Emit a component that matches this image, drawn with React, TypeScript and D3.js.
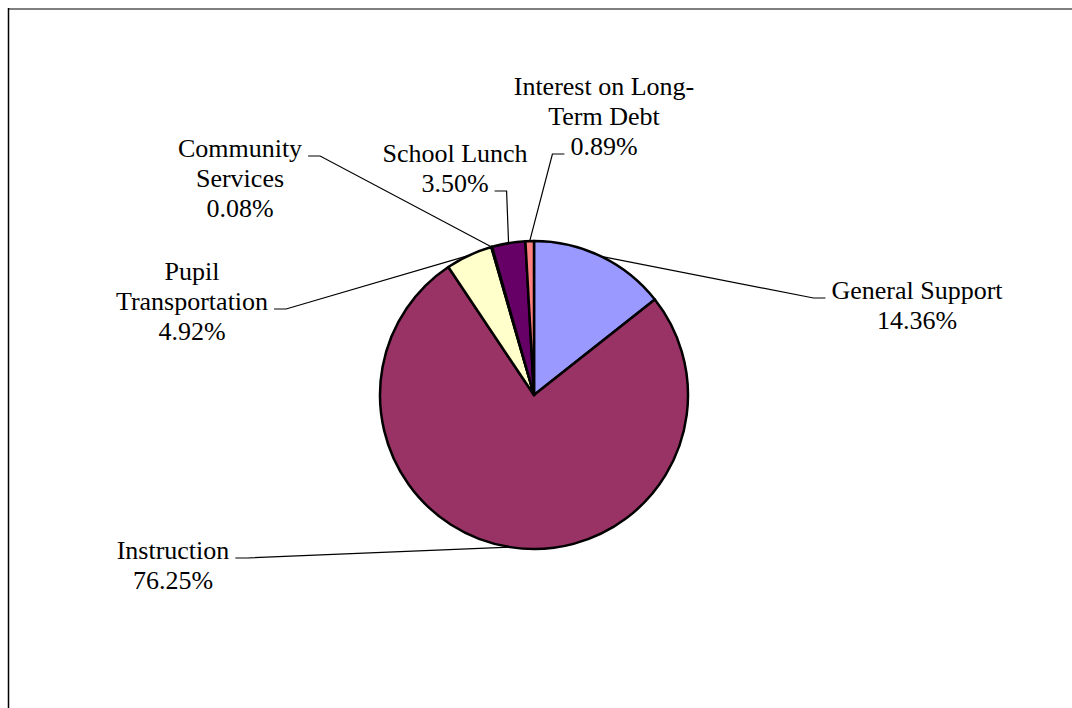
import React, { useEffect, useRef } from "react";
import * as d3 from "d3";

const categories = [
  "General Support",
  "Instruction",
  "Pupil Transportation",
  "Community Services",
  "School Lunch",
  "Interest on Long-Term Debt",
];
const values = [14.36, 76.25, 4.92, 0.08, 3.5, 0.89];
const colors = ["#9999FF", "#993366", "#FFFFCC", "#CCFFFF", "#660066", "#FF8080"];
const labelLines = [
  ["General Support", "14.36%"],
  ["Instruction", "76.25%"],
  ["Pupil", "Transportation", "4.92%"],
  ["Community", "Services", "0.08%"],
  ["School Lunch", "3.50%"],
  ["Interest on Long-", "Term Debt", "0.89%"],
];
// label layout: center x, first baseline y, side of leader, line index the leader attaches to
const labelLayout = [
  { cx: 917, y: 299, side: "left", attach: 0 },
  { cx: 173, y: 559, side: "right", attach: 0 },
  { cx: 192, y: 280, side: "right", attach: 1 },
  { cx: 240, y: 157, side: "right", attach: 0 },
  { cx: 455, y: 162, side: "right", attach: 1 },
  { cx: 604, y: 95, side: "left", attach: 2 },
];

const W = 1072;
const H = 708;
const CX = 534;
const CY = 395;
const R = 154;
const FONT = 26;
const LINE_H = 30;

export default function App() {
  const ref = useRef<SVGSVGElement | null>(null);

  useEffect(() => {
    const svg = d3.select(ref.current);
    svg.selectAll("*").remove();

    // frame
    svg.append("line").attr("x1", 8).attr("x2", W + 10).attr("y1", 9).attr("y2", 9)
      .attr("stroke", "#7f7f7f").attr("stroke-width", 2);
    svg.append("line").attr("x1", 8.5).attr("x2", 8.5).attr("y1", 8).attr("y2", H + 10)
      .attr("stroke", "#000").attr("stroke-width", 1.5);

    const pie = d3.pie<number>().sort(null).value((d) => d)(values);
    const arc = d3.arc<d3.PieArcDatum<number>>().innerRadius(0).outerRadius(R);

    const g = svg.append("g").attr("transform", `translate(${CX},${CY})`);
    g.selectAll("path.slice")
      .data(pie)
      .enter()
      .append("path")
      .attr("class", "slice")
      .attr("d", arc as any)
      .attr("fill", (_d, i) => colors[i])
      .attr("stroke", "#000")
      .attr("stroke-width", 2.5)
      .attr("stroke-linejoin", "round");

    // labels
    const labels = svg.append("g")
      .style("font-family", "\"Liberation Serif\", \"DejaVu Serif\", serif")
      .style("font-size", FONT + "px")
      .attr("fill", "#000");

    pie.forEach((p, i) => {
      const lay = labelLayout[i];
      const lines = labelLines[i];
      const t = labels.append("text").attr("text-anchor", "middle");
      const widths: number[] = [];
      lines.forEach((ln, k) => {
        const ts = t.append("tspan").attr("x", lay.cx).attr("y", lay.y + k * LINE_H).text(ln);
        const node = ts.node() as SVGTSpanElement;
        widths.push(node.getComputedTextLength());
      });
      const w = widths[lay.attach];
      const ly = lay.y + lay.attach * LINE_H - 1;
      const gap = 6;
      const hlen = 12;
      const x0 = lay.side === "left" ? lay.cx - w / 2 - gap : lay.cx + w / 2 + gap;
      const x1 = lay.side === "left" ? x0 - hlen : x0 + hlen;
      const mid = (p.startAngle + p.endAngle) / 2;
      const px = CX + R * Math.sin(mid);
      const py = CY - R * Math.cos(mid);
      svg.append("path")
        .attr("d", d3.line()([[x0, ly], [x1, ly], [px, py]]) as string)
        .attr("fill", "none")
        .attr("stroke", "#000")
        .attr("stroke-width", 1.2);
    });
  }, []);

  return (
    <svg
      ref={ref}
      width={W}
      height={H}
      style={{ position: "absolute", left: 0, top: 0, background: "#fff" }}
    />
  );
}
